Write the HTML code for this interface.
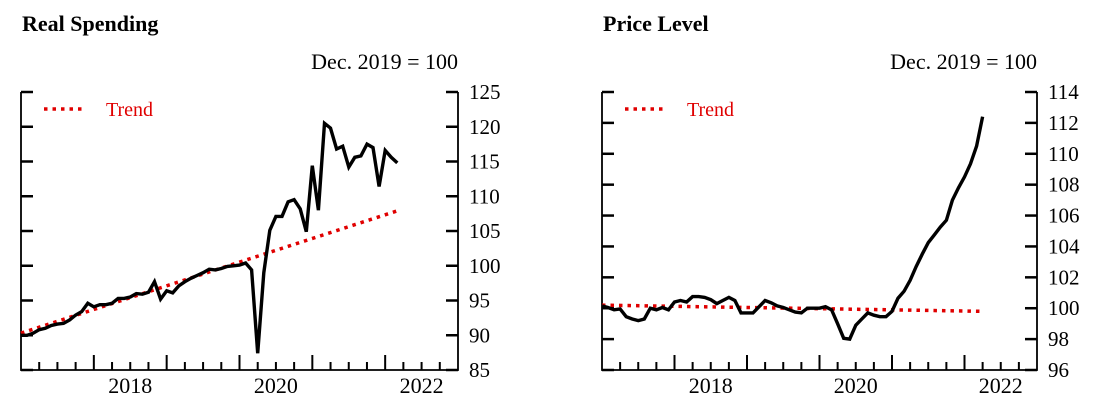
<!DOCTYPE html>
<html><head><meta charset="utf-8"><style>
html,body{margin:0;padding:0;background:#fff;width:1100px;height:407px;overflow:hidden}
svg text{font-family:"Liberation Serif",serif}
</style></head><body>
<svg id="chart" width="1100" height="407" xmlns="http://www.w3.org/2000/svg"></svg>
<script>
const spendValues=[90.0,90.0,90.3,90.8,91.0,91.4,91.6,91.7,92.2,92.9,93.4,94.6,94.1,94.4,94.4,94.6,95.3,95.3,95.5,96.0,95.9,96.2,97.7,95.2,96.4,96.1,97.1,97.7,98.2,98.6,99.0,99.5,99.4,99.6,99.9,100.0,100.1,100.4,99.4,87.4,99.0,105.1,107.1,107.1,109.2,109.5,108.2,104.9,114.4,108.0,120.5,119.8,116.8,117.2,114.2,115.6,115.8,117.5,117.0,111.4,116.6,115.6,114.8];
const spendTrend=[90.3,107.9];
const priceValues=[100.15,100.05,99.9,99.95,99.45,99.3,99.2,99.3,100.0,99.9,100.05,99.9,100.4,100.5,100.4,100.75,100.75,100.7,100.55,100.3,100.5,100.7,100.5,99.7,99.7,99.7,100.1,100.5,100.35,100.15,100.05,99.9,99.75,99.7,100.0,100.0,100.0,100.1,99.9,99.0,98.05,98.0,98.9,99.3,99.7,99.55,99.45,99.45,99.8,100.65,101.1,101.8,102.7,103.5,104.25,104.75,105.25,105.7,107.0,107.8,108.5,109.35,110.5,112.4];
const priceTrend=[100.2,99.8];
const spendTicks=[85,90,95,100,105,110,115,120,125];
const priceTicks=[96,98,100,102,104,106,108,110,112,114];
const yearLabels=[2018,2020,2022];

const svg=document.getElementById('chart');
const NS='http://www.w3.org/2000/svg';
function mk(tag,attrs,parent){const e=document.createElementNS(NS,tag);for(const k in attrs)e.setAttribute(k,attrs[k]);(parent||svg).appendChild(e);return e;}

function panel(p){
  const g=mk('g',{});
  
  
  const L=p.x0,R=p.x1,T=92,B=370;
  const xs=t=>L+(t-2017)/6*(R-L);
  const ys=v=>B-(v-p.ymin)/(p.ymax-p.ymin)*(B-T);
  const title=mk('text',{x:L+1,y:31,'font-size':22,'font-weight':'bold'},g);title.textContent=p.title;
  
  
  const unit=mk('text',{x:R,y:69,'font-size':22,'text-anchor':'end'},g);unit.textContent='Dec. 2019 = 100';
  
  
  const box=mk('path',{d:`M${L},${T}V${B}H${R}V${T}`,fill:'none',stroke:'#000','stroke-width':1.8},g);
  
  
  p.ticks.forEach(v=>{
    const y=ys(v);
    mk('line',{x1:L,x2:L+12,y1:y,y2:y,stroke:'#000','stroke-width':2.5},g);
    mk('line',{x1:R-12,x2:R,y1:y,y2:y,stroke:'#000','stroke-width':2.5},g);
    const t=mk('text',{x:R+11,y:y+7,'font-size':21},g);t.textContent=v;
    
    
  });
  for(let q=1;q<24;q++){
    const x=xs(2017+q/4);
    const h=q%4===0?15:8;
    mk('line',{x1:x,x2:x,y1:B,y2:B-h,stroke:'#000','stroke-width':2},g);
  }
  yearLabels.forEach(yr=>{
    const t=mk('text',{x:xs(yr+0.5),y:393,'font-size':22,'text-anchor':'middle'},g);t.textContent=yr;
    
    
  });
  const tr=mk('line',{x1:xs(2017),y1:ys(p.trend[0]),x2:xs(2017+(p.vals.length-1)/12),y2:ys(p.trend[1]),stroke:'#e00000','stroke-width':3.5,'stroke-dasharray':'3.5 5'},g);
  
  
  const d=p.vals.map((v,i)=>(i?'L':'M')+xs(2017+i/12).toFixed(1)+','+ys(v).toFixed(1)).join('');
  const ln=mk('path',{d:d,fill:'none',stroke:'#000','stroke-width':3.4,'stroke-linejoin':'miter','stroke-miterlimit':3},g);
  
  
  const lg=mk('line',{x1:L+23,x2:L+65,y1:109,y2:109,stroke:'#e00000','stroke-width':3.5,'stroke-dasharray':'3.5 5'},g);
  
  
  const lt=mk('text',{x:L+85,y:116,'font-size':20,fill:'#e00000'},g);lt.textContent='Trend';
  
  
}
panel({name:'real-spending',title:'Real Spending',x0:21,x1:458,ymin:85,ymax:125,ticks:spendTicks,vals:spendValues,trend:spendTrend});
panel({name:'price-level',title:'Price Level',x0:602,x1:1037,ymin:96,ymax:114,ticks:priceTicks,vals:priceValues,trend:priceTrend});
</script>
</body></html>
